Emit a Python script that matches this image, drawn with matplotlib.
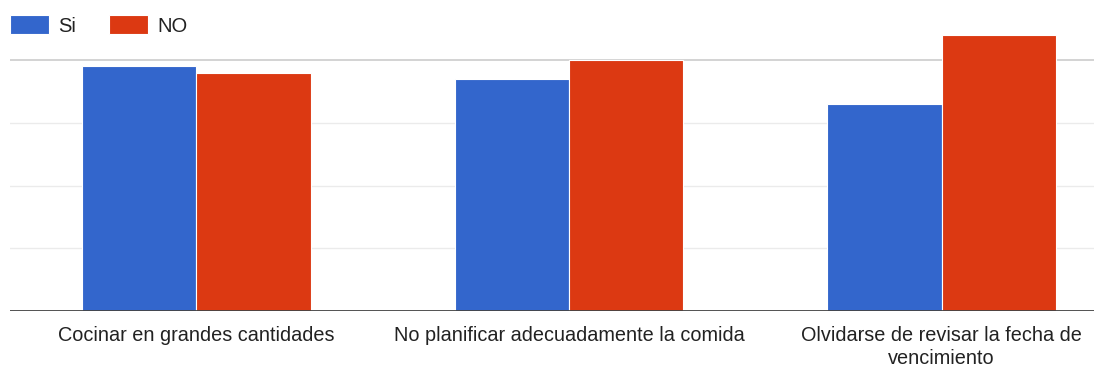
import matplotlib
matplotlib.use("Agg")
import matplotlib.pyplot as plt
import numpy as np

categories = ["Cocinar en grandes cantidades",
              "No planificar adecuadamente la comida",
              "Olvidarse de revisar la fecha de\nvencimiento"]
si_values = [39, 37, 33]
no_values = [38, 40, 44]

BLUE = "#3366cc"
RED = "#dc3912"

W, H = 1094, 369
fig = plt.figure(figsize=(W / 100, H / 100), dpi=100)

# axes: left edge 10px, baseline at 311px, top at 0px
left, right = 10, 1094
bottom, top = 311, 0
ax = fig.add_axes([left / W, 1 - bottom / H, (right - left) / W, (bottom - top) / H])

cat_w = 372.7  # pixels per category
x = np.arange(len(categories))
bw = 0.307
ax.bar(x - bw / 2, si_values, bw, color=BLUE, edgecolor="white", linewidth=0.8, label="Si", zorder=3)
ax.bar(x + bw / 2, no_values, bw, color=RED, edgecolor="white", linewidth=0.8, label="NO", zorder=3)

ax.set_xlim(-0.5, (right - left) / cat_w - 0.5)
px_per_unit = (311 - 60) / 40
ax.set_ylim(0, 40 + 60 / px_per_unit)

for v in [10, 20, 30]:
    ax.axhline(v, color="#ebebeb", linewidth=1.0, zorder=1)
ax.axhline(40, color="#cccccc", linewidth=1.2, zorder=1)
ax.axhline(0, color="#444444", linewidth=1.3, zorder=4)

for s in ax.spines.values():
    s.set_visible(False)
ax.set_yticks([])
ax.set_xticks(x)
ax.set_xticklabels(categories, fontsize=14.3, color="#222222", linespacing=1.25,
                   family="Liberation Sans")
ax.tick_params(axis="x", length=0, pad=11)
for lbl in ax.get_xticklabels():
    lbl.set_verticalalignment("top")

fig.legend(loc="upper left", bbox_to_anchor=(-8 / W, 1 + 3 / H), ncol=2, frameon=False,
           prop={"family": "Liberation Sans", "size": 14.5}, handlelength=1.95,
           handleheight=1.1, handletextpad=0.45, columnspacing=1.6, labelcolor="#222222")

fig.savefig("out.png", dpi=100)
